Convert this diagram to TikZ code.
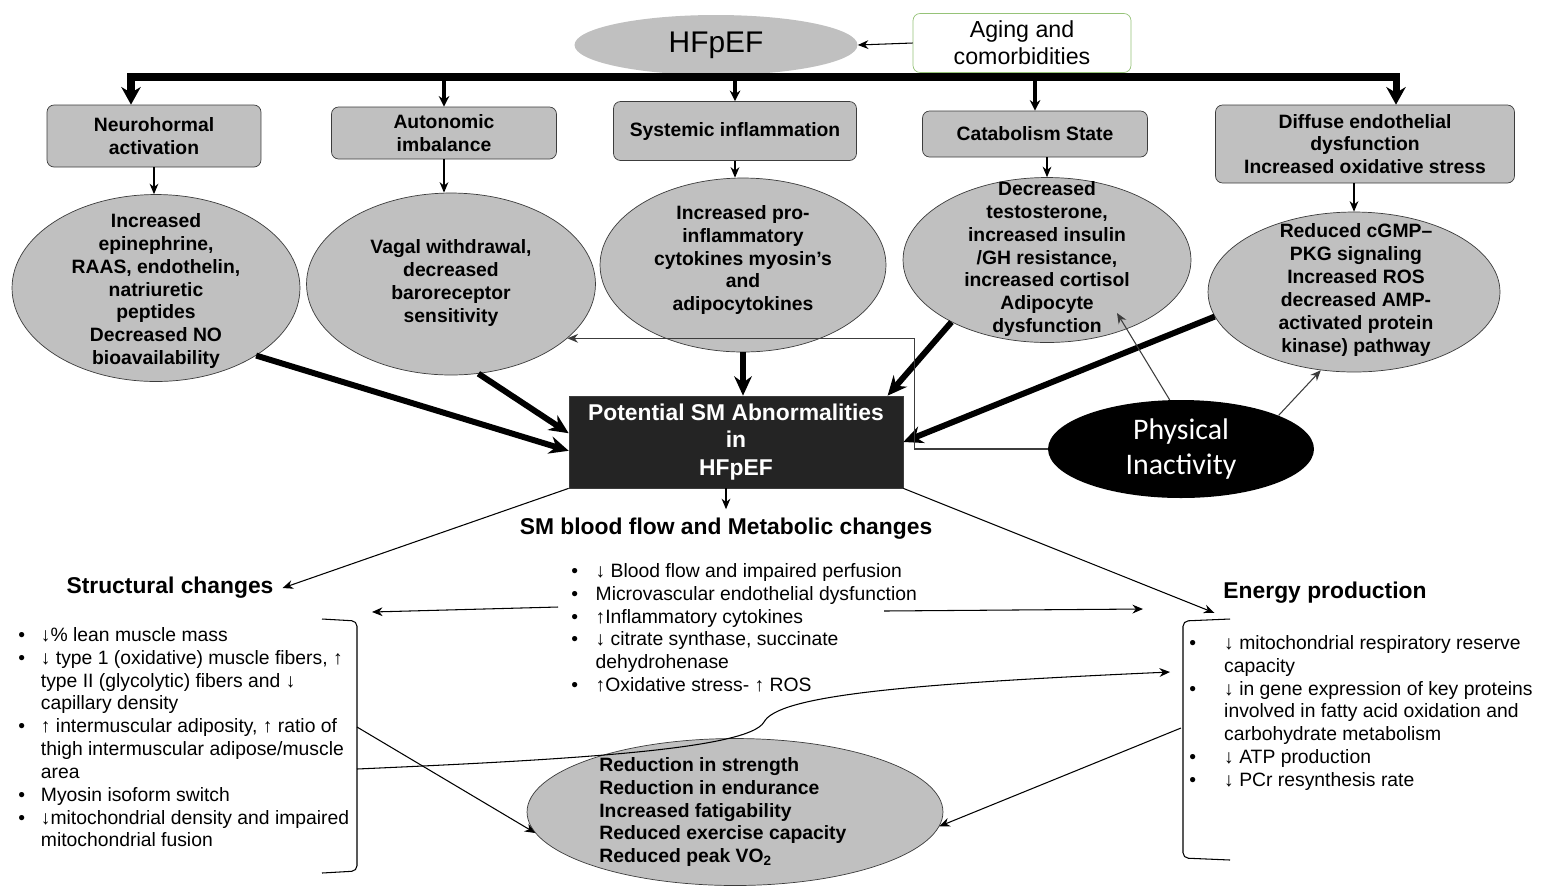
\documentclass[tikz,border=0pt]{standalone}
\usepackage{fontspec}
\setmainfont{Liberation Sans}
\newfontfamily\calfont{Carlito}
\usetikzlibrary{arrows,arrows.meta,shapes,positioning,calc}
\definecolor{boxgray}{RGB}{192,192,192}
\definecolor{edgegray}{RGB}{60,60,60}
\definecolor{agegreen}{RGB}{150,195,120}
\definecolor{smdark}{RGB}{36,36,36}
\tikzstyle{causebox} = [rectangle, rounded corners=4pt, draw=edgegray, fill=boxgray, inner sep=0pt, align=center, font=\fontsize{11}{13}\selectfont\bfseries]
\tikzstyle{bubble} = [ellipse, draw=edgegray, fill=boxgray, inner sep=0pt]
\tikzstyle{bubbletext} = [align=center, inner sep=0pt, font=\fontsize{11}{13}\selectfont\bfseries]
\tikzstyle{thinarrow} = [line width=0.6pt, -{Stealth[length=6pt,width=5pt]}]
\tikzstyle{bigarrow} = [line width=3.4pt, -{Stealth[length=11pt,width=10pt]}]
\tikzstyle{drop} = [line width=2.2pt, -{Stealth[length=6pt,width=6pt]}]
\tikzstyle{bigdrop} = [line width=4pt, -{Stealth[length=10pt,width=11pt]}]
\tikzstyle{heading} = [font=\fontsize{13}{15}\selectfont\bfseries, inner sep=5pt]
\tikzstyle{listtext} = [anchor=north west, inner sep=0pt, align=left, font=\fontsize{11}{13}\selectfont]

\begin{document}
\begin{tikzpicture}[x=0.02cm, y=-0.02cm]
\useasboundingbox[fill=white] (0,0) rectangle (1548,894);

\node[ellipse, fill=boxgray, minimum width=5.66cm, minimum height=1.2cm, font=\fontsize{17}{20}\selectfont] (hf) at (716,45) {HFpEF};
\node[rectangle, rounded corners=4pt, draw=agegreen, minimum width=4.36cm, minimum height=1.18cm, inner sep=0pt, align=center, font=\fontsize{13.2}{15.5}\selectfont] (age) at (1022,43) {Aging and\\comorbidities};
\draw[thinarrow] (age.west) -- (hf.east);

\node[causebox, minimum width=4.28cm, minimum height=1.24cm] (b1) at (154,136) {Neurohormal\\activation};
\node[causebox, minimum width=4.5cm, minimum height=1.04cm] (b2) at (444,133) {Autonomic\\imbalance};
\node[causebox, minimum width=4.86cm, minimum height=1.18cm] (b3) at (735,131) {Systemic inflammation};
\node[causebox, minimum width=4.5cm, minimum height=0.92cm] (b4) at (1035,134) {Catabolism State};
\node[causebox, minimum width=5.98cm, minimum height=1.56cm] (b5) at (1365,144) {Diffuse endothelial\\dysfunction\\Increased oxidative stress};

\coordinate (barL) at (131,77);
\coordinate (barR) at (1396,77);
\draw[line width=4pt, line cap=rect] (barL) -- (barR);
\draw[bigdrop] (barL) -- (barL |- b1.north);
\draw[bigdrop] (barR) -- (barR |- b5.north);
\draw[drop] (b2.north |- barL) -- (b2.north);
\draw[drop] (b3.north |- barL) -- (b3.north);
\draw[drop] (b4.north |- barL) -- (b4.north);

\node[bubble, minimum width=5.76cm, minimum height=3.74cm] (e1) at (156,288) {};
\node[bubble, minimum width=5.78cm, minimum height=3.64cm] (e2) at (451,284) {};
\node[bubble, minimum width=5.72cm, minimum height=3.48cm] (e3) at (743,265) {};
\node[bubble, minimum width=5.76cm, minimum height=3.3cm] (e4) at (1047,260) {};
\node[bubble, minimum width=5.84cm, minimum height=3.2cm] (e5) at (1354,292) {};
\node[bubbletext] (e1t) at (156,291) {Increased\\epinephrine,\\RAAS, endothelin,\\natriuretic\\peptides\\Decreased NO\\bioavailability};
\node[bubbletext] (e2t) at (451,283) {Vagal withdrawal,\\decreased\\baroreceptor\\sensitivity};
\node[bubbletext] (e3t) at (743,260) {Increased pro-\\inflammatory\\cytokines myosin's\\and\\adipocytokines};
\node[bubbletext] (e4t) at (1047,259) {Decreased\\testosterone,\\increased insulin\\/GH resistance,\\increased cortisol\\Adipocyte\\dysfunction};
\node[bubbletext] (e5t) at (1356,290) {Reduced cGMP–\\PKG signaling\\Increased ROS\\decreased AMP-\\activated protein\\kinase) pathway};

\draw[thinarrow] (b1.south) -- (b1.south |- e1.north);
\draw[thinarrow] (b2.south) -- (b2.south |- e2.north);
\draw[thinarrow] (b3.south) -- (b3.south |- e3.north);
\draw[thinarrow] (e4.north |- b4.south) -- (e4.north);
\draw[thinarrow] (e5.north |- b5.south) -- (e5.north);

\node[rectangle, draw=edgegray, fill=smdark, text=white, minimum width=6.68cm, minimum height=1.84cm, align=center, font=\fontsize{13}{15.5}\selectfont\bfseries] (sm) at (736,442) {Potential SM Abnormalities\\in\\HFpEF};
\node[ellipse, fill=black, text=white, minimum width=5.32cm, minimum height=1.96cm, inner sep=0pt, align=center, font=\calfont\fontsize{17}{19.5}\selectfont] (pi) at (1181,449) {Physical\\Inactivity};

\draw[bigarrow] (e1.-34.5) -- (sm.183);
\draw[bigarrow] (e2.-73) -- (sm.177);
\draw[bigarrow] (e3.south) -- (e3.south |- sm.north);
\draw[bigarrow] (e4.213) -- (sm.17);
\draw[bigarrow] (e5.190) -- (sm.east);

\coordinate (e4in) at (1117,313);
\draw[thinarrow, draw=edgegray] (pi.103) -- (e4in);
\draw[thinarrow, draw=edgegray] (pi.19) -- (e5.-113);
\draw[thinarrow, draw=edgegray] (pi.west) -- ++(-133,0) |- (e2.-25);

\node[heading] (smflow) at (726,529) {SM blood flow and Metabolic changes};
\node[heading] (struct) at (170,588) {Structural changes};
\node[heading] (energy) at (1325,593) {Energy production};
\draw[thinarrow] (smflow.north |- sm.south) -- (smflow.north);
\draw[thinarrow] (sm.south west) -- (struct.east);
\draw[thinarrow] (sm.south east) -- (energy.south west);

\node[listtext] (slist) at (18,625) {\begin{tabular}{@{}l@{\hspace{9pt}}l@{}}
• & ↓\% lean muscle mass\\
• & ↓ type 1 (oxidative) muscle fibers, ↑\\
  & type II (glycolytic) fibers and ↓\\
  & capillary density\\
• & ↑ intermuscular adiposity, ↑ ratio of\\
  & thigh intermuscular adipose/muscle\\
  & area\\
• & Myosin isoform switch\\
• & ↓mitochondrial density and impaired\\
  & mitochondrial fusion
\end{tabular}};
\node[listtext] (mid) at (571,561) {\begin{tabular}{@{}l@{\hspace{10pt}}l@{}}
• & ↓ Blood flow and impaired perfusion\\
• & Microvascular endothelial dysfunction\\
• & ↑Inflammatory cytokines\\
• & ↓ citrate synthase, succinate\\
  & dehydrohenase\\
• & ↑Oxidative stress- ↑ ROS
\end{tabular}};
\node[listtext] (elist) at (1189,633) {\begin{tabular}{@{}l@{\hspace{16pt}}l@{}}
• & ↓ mitochondrial respiratory reserve\\
  & capacity\\
• & ↓ in gene expression of key proteins\\
  & involved in fatty acid oxidation and\\
  & carbohydrate metabolism\\
• & ↓ ATP production\\
• & ↓ PCr resynthesis rate
\end{tabular}};

\draw[line width=0.6pt, rounded corners=3pt] (322,619) -- (357,621) -- (357,871) -- (322,873);
\draw[line width=0.6pt, rounded corners=3pt] (1230,619) -- (1183,621) -- (1183,858) -- (1230,860);

\node[bubble, minimum width=8.32cm, minimum height=2.94cm] (res) at (735,812) {};
\node[bubbletext, anchor=west, align=left] (rest) at (599,812) {Reduction in strength\\Reduction in endurance\\Increased fatigability\\Reduced exercise capacity\\Reduced peak VO\textsubscript{2}};

\coordinate (midL) at (558,607);
\coordinate (sbrk) at (372,612);
\coordinate (midR) at (884,611);
\coordinate (ebrk) at (1143,609);
\coordinate (lbmid) at (357,769);
\coordinate (lbadip) at (357,727);
\coordinate (rbtop) at (1170,672);
\coordinate (rbmid) at (1181,728);
\draw[thinarrow] (midL) -- (sbrk);
\draw[thinarrow] (midR) -- (ebrk);
\draw[thinarrow] (lbmid) .. controls (560,760) and (748,750) .. (764,722) .. controls (778,696) and (900,684) .. (rbtop);
\draw[thinarrow] (lbadip) -- (res.186);
\draw[thinarrow] (rbmid) -- (res.-4);
\end{tikzpicture}
\end{document}
